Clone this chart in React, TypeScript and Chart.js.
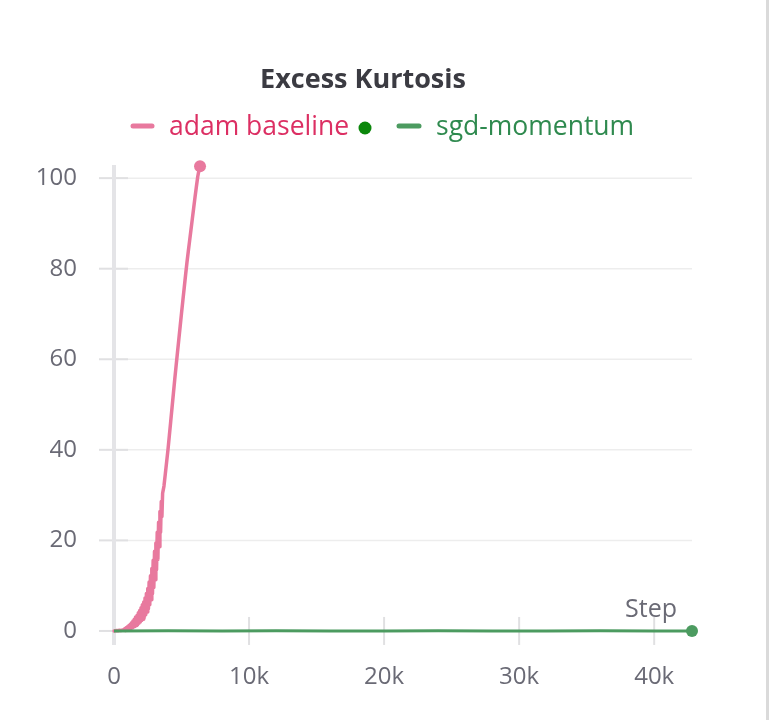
import React, { useEffect, useRef } from "react";
import { Chart, registerables } from "chart.js";

Chart.register(...registerables);

const chartTitle = "Excess Kurtosis";
const seriesNames = ["adam baseline", "sgd-momentum"];
const xAxisLabel = "Step";
const xTickValues = [0, 10000, 20000, 30000, 40000];
const xTickLabels = ["0", "10k", "20k", "30k", "40k"];
const yTickValues = [0, 20, 40, 60, 80, 100];
const yTickLabels = ["0", "20", "40", "60", "80", "100"];

const adamSteps = [
  0, 100, 200, 300, 400, 500, 600, 700,
  800, 850, 900, 950, 1000, 1050, 1100, 1150, 1200, 1250, 1300, 1350, 1400, 1450,
  1500, 1550, 1600, 1650, 1700, 1750, 1800, 1850, 1900, 1950, 2000, 2050, 2100,
  2150, 2200, 2250, 2300, 2350, 2400, 2450, 2500, 2550, 2600, 2650, 2700, 2750,
  2800, 2850, 2900, 2950, 3000, 3050, 3100, 3150, 3200, 3250, 3300, 3350, 3400,
  3450, 3500, 3550, 3600,
  3700, 3800, 3900, 4000, 4100, 4200, 4300, 4400, 4500, 4600, 4700, 4800, 4900,
  5000, 5100, 5200, 5300, 5400, 5500, 5600, 5700, 5800, 5900, 6000, 6100, 6200,
  6300, 6370,
];
const adamValues = [
  0, 0.05, 0.1, 0.05, 0.15, 0.1, 0.2, 0.15,
  0.5, 0.1, 0.7, 0.2, 0.9, 0.3, 1.2, 0.4, 1.5, 0.5, 1.8, 0.7, 2.2, 0.9,
  2.6, 1.0, 3.1, 1.2, 3.4, 1.4, 4.0, 1.7, 4.5, 2.0, 5.1, 2.3, 5.8,
  2.6, 6.4, 3.0, 7.3, 3.6, 8.3, 4.2, 9.4, 4.9, 10.8, 5.8, 12.2, 6.9,
  13.8, 8.2, 15.6, 9.6, 17.6, 11.3, 19.4, 13.5, 21.8, 15.8, 24.0, 18.6, 26.4,
  21.8, 28.6, 25.3, 30.4,
  32.0, 34.7, 37.4, 40.1, 43.2, 46.3, 49.4, 52.5, 55.6, 58.6, 61.5, 64.4, 67.3,
  70.2, 73.0, 75.8, 78.6, 81.3, 83.8, 86.2, 88.6, 91.0, 93.4, 95.8, 98.1, 100.3,
  101.9, 102.6,
];

const sgdSteps = [0, 4000, 8000, 12000, 16000, 20000, 24000, 28000, 32000, 36000, 40000, 42800];
const sgdValues = [0, 0.02, 0.01, 0.02, 0.01, 0.01, 0.02, 0.01, 0.01, 0.02, 0.01, 0.01];

const FONT = '"Open Sans", "Noto Sans", sans-serif';
const ADAM_LINE = "#e8799e";
const ADAM_TEXT = "#dc2f63";
const SGD_LINE = "#4c9b60";
const SGD_TEXT = "#2f8a4f";
const TICK_COLOR = "#6a6a75";

const decorPlugin = {
  id: "decor",
  beforeDatasetsDraw(chart: any) {
    const { ctx, chartArea } = chart;
    const x = chart.scales.x;
    const y = chart.scales.y;
    const x0 = x.getPixelForValue(0);
    const y0 = y.getPixelForValue(0);
    ctx.save();
    yTickValues.forEach((v) => {
      const py = y.getPixelForValue(v);
      ctx.strokeStyle = "#ededed";
      ctx.lineWidth = 1.5;
      ctx.beginPath();
      ctx.moveTo(x0, py);
      ctx.lineTo(chartArea.right, py);
      ctx.stroke();
      ctx.strokeStyle = "#e0e0e2";
      ctx.lineWidth = 2;
      ctx.beginPath();
      ctx.moveTo(x0 - 15, py);
      ctx.lineTo(x0 + 14, py);
      ctx.stroke();
    });
    xTickValues.slice(1).forEach((v) => {
      const px = x.getPixelForValue(v);
      ctx.strokeStyle = "#e0e0e2";
      ctx.lineWidth = 2;
      ctx.beginPath();
      ctx.moveTo(px, y0 - 14);
      ctx.lineTo(px, y0 + 14);
      ctx.stroke();
    });
    ctx.fillStyle = "#e4e4e7";
    ctx.fillRect(x0 - 2, chartArea.top, 4, chartArea.bottom - chartArea.top);
    ctx.restore();
  },
  afterDraw(chart: any) {
    const { ctx } = chart;
    ctx.save();
    // title
    ctx.fillStyle = "#3b3b42";
    ctx.font = `bold 27px ${FONT}`;
    ctx.textAlign = "center";
    ctx.textBaseline = "middle";
    ctx.fillText(chartTitle, 363, 80);
    // legend
    const ly = 127;
    ctx.lineWidth = 5;
    ctx.lineCap = "round";
    ctx.strokeStyle = ADAM_LINE;
    ctx.beginPath();
    ctx.moveTo(133, ly - 1);
    ctx.lineTo(152, ly - 1);
    ctx.stroke();
    ctx.font = `26.5px ${FONT}`;
    ctx.textAlign = "left";
    ctx.fillStyle = ADAM_TEXT;
    ctx.fillText(seriesNames[0], 169, ly);
    ctx.fillStyle = "#0b870b";
    ctx.beginPath();
    ctx.arc(365, ly + 1, 6.5, 0, Math.PI * 2);
    ctx.fill();
    ctx.strokeStyle = SGD_LINE;
    ctx.beginPath();
    ctx.moveTo(399, ly - 1);
    ctx.lineTo(419, ly - 1);
    ctx.stroke();
    ctx.fillStyle = SGD_TEXT;
    ctx.fillText(seriesNames[1], 436, ly);
    // x axis label
    const xs = chart.scales.x;
    const ys = chart.scales.y;
    ctx.font = `25px ${FONT}`;
    ctx.fillStyle = TICK_COLOR;
    ctx.textAlign = "right";
    ctx.textBaseline = "alphabetic";
    ctx.fillText(xAxisLabel, xs.right - 15, ys.getPixelForValue(0) - 14);
    ctx.restore();
  },
};

export default function App() {
  const canvasRef = useRef<HTMLCanvasElement | null>(null);

  useEffect(() => {
    if (!canvasRef.current) return;
    const last = (n: number) => (ctx: any) => (ctx.dataIndex === n - 1 ? 6 : 0);
    const chart = new Chart(canvasRef.current, {
      type: "line",
      data: {
        datasets: [
          {
            label: seriesNames[0],
            data: adamSteps.map((s, i) => ({ x: s, y: adamValues[i] })),
            borderColor: ADAM_LINE,
            backgroundColor: ADAM_LINE,
            borderWidth: 3.5,
            borderJoinStyle: "round",
            borderCapStyle: "round",
            pointRadius: last(adamSteps.length),
            pointBackgroundColor: ADAM_LINE,
            pointBorderWidth: 0,
            tension: 0,
            clip: false,
            order: 1,
          },
          {
            label: seriesNames[1],
            data: sgdSteps.map((s, i) => ({ x: s, y: sgdValues[i] })),
            borderColor: SGD_LINE,
            backgroundColor: SGD_LINE,
            borderWidth: 3,
            borderJoinStyle: "round",
            pointRadius: last(sgdSteps.length),
            pointBackgroundColor: SGD_LINE,
            pointBorderWidth: 0,
            tension: 0,
            clip: false,
            order: 0,
          },
        ],
      },
      options: {
        animation: false,
        responsive: false,
        maintainAspectRatio: false,
        layout: { padding: { top: 165, right: 78, left: 0, bottom: 0 } },
        plugins: {
          legend: { display: false },
          title: { display: false },
          tooltip: { enabled: false },
        },
        scales: {
          x: {
            type: "linear",
            min: 0,
            max: 42800,
            afterBuildTicks: (s: any) => {
              s.ticks = xTickValues.map((v) => ({ value: v }));
            },
            afterFit: (s: any) => {
              s.height = 75;
            },
            grid: { display: false, drawTicks: false },
            border: { display: false },
            ticks: {
              callback: (v: any) => xTickLabels[xTickValues.indexOf(Number(v))],
              font: { family: FONT, size: 24 },
              color: TICK_COLOR,
              padding: 18,
              maxRotation: 0,
              autoSkip: false,
            },
          },
          y: {
            type: "linear",
            min: -3.1,
            max: 102.9,
            afterBuildTicks: (s: any) => {
              s.ticks = yTickValues.map((v) => ({ value: v }));
            },
            afterFit: (s: any) => {
              s.width = 114;
            },
            grid: { display: false, drawTicks: false },
            border: { display: false },
            ticks: {
              callback: (v: any) => yTickLabels[yTickValues.indexOf(Number(v))],
              font: { family: FONT, size: 24 },
              color: TICK_COLOR,
              padding: 37,
              autoSkip: false,
            },
          },
        },
      },
      plugins: [decorPlugin],
    });
    return () => chart.destroy();
  }, []);

  return (
    <div
      style={{
        position: "fixed",
        left: 0,
        top: 0,
        width: 770,
        height: 720,
        background: "#ffffff",
      }}
    >
      <canvas ref={canvasRef} width={770} height={720} style={{ width: 770, height: 720, display: "block" }} />
      <div
        style={{
          position: "absolute",
          left: 766,
          top: 0,
          width: 3,
          height: 720,
          background: "#dadada",
        }}
      />
    </div>
  );
}
